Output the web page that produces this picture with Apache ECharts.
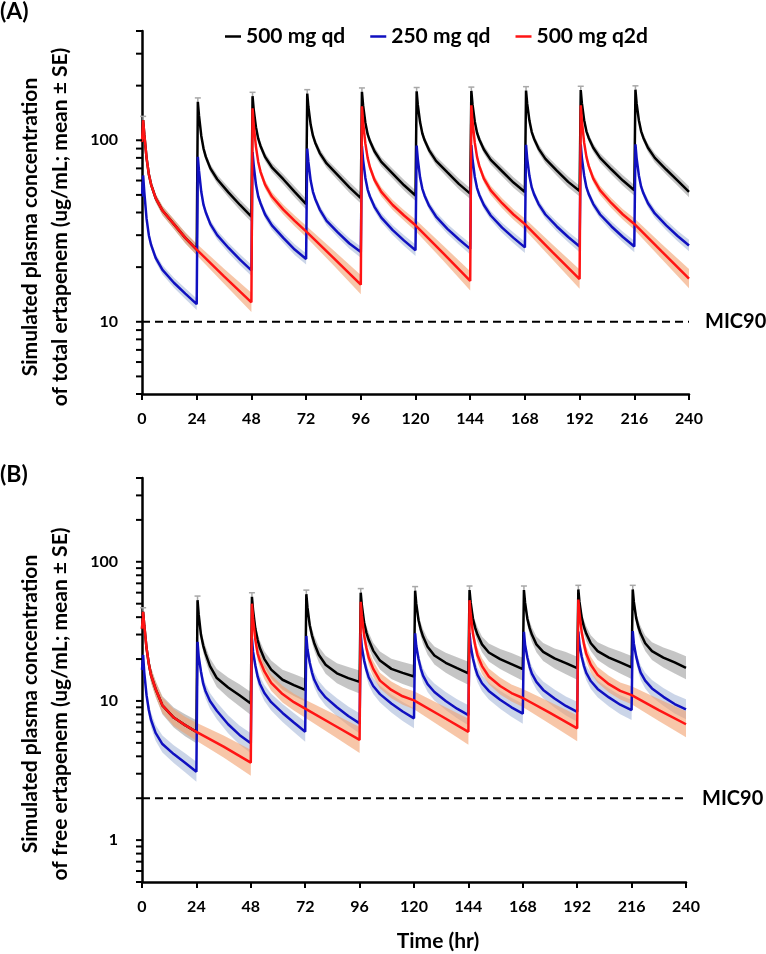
<!DOCTYPE html>
<html><head><meta charset="utf-8">
<script src="https://cdn.jsdelivr.net/npm/echarts@6/dist/echarts.min.js"></script>
<style>html,body{margin:0;padding:0;background:#fff}#c{width:766px;height:954px}</style>
</head><body><div id="c"></div>
<script>
// ---------- schedule / time grid ----------
const dosesQd = [0, 24, 48, 72, 96, 120, 144, 168, 192, 216];
const dosesQ2d = [0, 48, 96, 144, 192];
const offsQd = [0.5, 1, 2, 3, 4, 6, 9, 14, 19, 24];
const offsQ2d = [0.5, 1, 2, 3, 4, 6, 9, 14, 19, 24, 36, 48];
const xTickLabels = [0, 24, 48, 72, 96, 120, 144, 168, 192, 216, 240];
const seriesNames = ['500 mg qd', '250 mg qd', '500 mg q2d'];

// ---------- Panel A: total ertapenem ----------
const yLabelsA = [10, 100];
const yTicksA = [4, 5, 6, 7, 8, 9, 10, 20, 30, 40, 50, 60, 70, 80, 90, 100, 200, 300, 400];
const micA = 10;
const startA = [98, 49, 98];
const black500qdA = [
  [129, 108, 80, 65, 57, 48, 41, 34.5, 29, 25],
  [163, 137, 106, 90, 81, 70, 61, 51.5, 44, 38],
  [175, 148, 118, 102, 93, 81, 71, 61, 52, 44.5],
  [181, 153, 122, 106, 97, 85, 74.5, 64, 55, 48],
  [185, 156, 125, 108, 99, 87, 76, 65.5, 56.5, 49.6],
  [186, 157, 126, 109, 100, 88, 77, 66.5, 57.5, 50.8],
  [187, 158, 127, 110, 101, 89, 78, 67.5, 58.5, 51.9],
  [188, 159, 128, 111, 102, 90, 79, 68, 59, 52.5],
  [189, 160, 129, 112, 103, 91, 80, 69, 60, 53],
  [190, 160, 129, 112, 103, 91, 80, 69, 60, 52]
];
const blue250qdA = [
  [64, 52, 37, 30, 26.5, 22.5, 19.3, 16.4, 14.3, 12.5],
  [81, 68, 52, 44, 40, 34.5, 30, 25.5, 22, 19.2],
  [86, 73, 57, 49, 45, 39, 34, 29, 25, 22.2],
  [90, 76, 60, 52, 47.5, 41.5, 36, 31, 27, 24.2],
  [93, 78, 62, 53.5, 49, 43, 37.5, 32, 28, 24.8],
  [93.5, 79, 62.5, 54, 49.5, 43.5, 38, 32.5, 28.5, 25.2],
  [94, 79, 63, 54.5, 50, 44, 38.5, 33, 29, 25.7],
  [94.5, 79.5, 63.5, 55, 50.5, 44.5, 39, 33.5, 29.3, 26],
  [95, 80, 64, 55, 50.5, 44.5, 39, 33.5, 29.3, 26],
  [95, 80, 64, 55.5, 51, 45, 39.5, 34, 29.7, 26.3]
];
const red500q2dA = [
  [129, 108, 80, 65, 57, 48, 41, 34.5, 29, 25, 17.8, 12.8],
  [150, 122, 92, 76, 67, 57, 49, 41.5, 36, 31.5, 22.5, 16],
  [154, 126, 96, 80, 71, 60.5, 52, 44, 38.5, 34, 24, 16.8],
  [156, 128, 97, 81, 72, 61.5, 53, 45, 39, 34.5, 24.3, 17.2],
  [156, 128, 97, 81, 72, 61.5, 53, 45, 39, 34.6, 24.4, 17.3]
];
// relative SE (fraction of mean) by time after dose
const seBlackA = [0.02, 0.03, 0.04, 0.045, 0.05, 0.055, 0.06, 0.065, 0.07, 0.07];
const seBlueA = [0.02, 0.03, 0.04, 0.045, 0.05, 0.055, 0.06, 0.065, 0.07, 0.075];
const seRedA = [0.02, 0.03, 0.04, 0.045, 0.05, 0.055, 0.06, 0.065, 0.07, 0.075, 0.1, 0.13];
const capBlackA = 0.05;

// ---------- Panel B: free ertapenem ----------
const yLabelsB = [1, 10, 100];
const yTicksB = [0.5, 0.6, 0.7, 0.8, 0.9, 1, 2, 3, 4, 5, 6, 7, 8, 9, 10, 20, 30, 40, 50, 60, 70, 80, 90, 100, 200, 300, 400];
const micB = 2;
const startB = [33, 16.7, 33];
const black500qdB = [
  [43.7, 35, 24, 18.5, 15.3, 12.2, 9.3, 7.6, 6.7, 6.0],
  [53, 42, 30, 25, 22, 17.8, 14.6, 12.5, 11, 9.6],
  [56, 45, 33, 27.5, 24, 20, 16.8, 14.2, 13, 12.0],
  [58.5, 47, 35, 29.5, 26, 21.5, 18.2, 15.8, 14.6, 13.7],
  [60, 48.5, 36.5, 31, 27.5, 23, 19.5, 17, 15.9, 15.0],
  [62, 50, 38, 32.5, 29, 24.5, 21.2, 18.8, 17.2, 15.8],
  [62.6, 51, 39, 33.5, 30, 25.5, 22.3, 20, 18.4, 16.9],
  [62.6, 51, 39, 33.5, 30, 25.5, 22.5, 20.2, 18.7, 17.2],
  [63.3, 51.5, 39.5, 34, 30.5, 26, 22.8, 20.5, 18.9, 17.4],
  [63.3, 51.5, 39.5, 34, 30.5, 26, 22.8, 20.5, 18.9, 17.3]
];
const blue250qdB = [
  [21.4, 16, 11, 8.6, 7.3, 5.9, 4.9, 4.15, 3.6, 3.1],
  [26.6, 21, 16.3, 13.3, 11.8, 10.0, 8.5, 6.8, 5.7, 4.96],
  [28.2, 22.5, 18, 15, 13.3, 11.4, 9.8, 8.2, 7.0, 6.0],
  [29.3, 23.5, 18.8, 16, 14.2, 12.2, 10.6, 9, 7.8, 6.9],
  [30.2, 24.3, 19.5, 16.7, 14.8, 12.8, 11.2, 9.6, 8.4, 7.5],
  [30.6, 24.8, 20, 17.1, 15.2, 13.2, 11.6, 10, 8.8, 7.9],
  [30.8, 25, 20.2, 17.3, 15.4, 13.4, 11.8, 10.2, 9.0, 8.1],
  [31.4, 25.4, 20.5, 17.6, 15.7, 13.7, 12, 10.4, 9.2, 8.35],
  [31.5, 25.5, 20.7, 17.8, 15.9, 13.9, 12.2, 10.6, 9.4, 8.6],
  [31.8, 25.8, 20.9, 18, 16, 14, 12.3, 10.7, 9.5, 8.7]
];
const red500q2dB = [
  [43.7, 35, 24, 18.5, 15.3, 12.2, 9.3, 7.6, 6.7, 6.0, 4.7, 3.6],
  [50, 39, 27.5, 22, 19.5, 16.3, 13.5, 11.2, 9.8, 8.8, 6.8, 5.25],
  [51.6, 41, 29.5, 24, 20.5, 17, 14, 12, 10.8, 10.1, 7.8, 6.0],
  [53, 42.5, 30.5, 25, 21.3, 17.8, 15, 12.8, 11.4, 10.5, 8.2, 6.36],
  [53.5, 43, 31, 25.5, 21.8, 18.2, 15.4, 13.2, 11.8, 11.0, 8.6, 6.8]
];
const seBlackB = [0.04, 0.07, 0.1, 0.12, 0.13, 0.14, 0.16, 0.18, 0.2, 0.21];
const seBlueB = [0.04, 0.07, 0.1, 0.12, 0.13, 0.14, 0.15, 0.16, 0.17, 0.18];
const seRedB = [0.04, 0.07, 0.1, 0.12, 0.13, 0.14, 0.14, 0.15, 0.15, 0.16, 0.2, 0.24];
const capBlackB = 0.07;

// ---------- styles ----------
const FONT = 'Lato';
const lineColors = ['#000000', '#1010c0', '#ff1414'];
const bandColors = ['rgba(150,150,150,0.55)', 'rgba(140,162,205,0.45)', 'rgba(242,160,110,0.6)'];

// ---------- builders ----------
function seriesPoints(doses, offs, t0, rows) {
  const pts = [[0, t0]];
  doses.forEach((d, i) => offs.forEach((o, j) => pts.push([d + o, rows[i][j]])));
  return pts;
}
function bandPoints(doses, offs, t0, rows, se) {
  const hi = [[0, t0 * (1 + se[0])]], lo = [[0, t0 / (1 + se[0])]];
  doses.forEach((d, i) => offs.forEach((o, j) => {
    const v = rows[i][j];
    hi.push([d + o, v * (1 + se[j])]);
    lo.push([d + o, v / (1 + se[j])]);
  }));
  return { hi, lo };
}
function bandSeries(idx, band, color) {
  return {
    type: 'custom', xAxisIndex: idx, yAxisIndex: idx, silent: true, z: 1,
    data: [[120, 20]],
    renderItem: (params, api) => {
      const pts = band.hi.map(p => api.coord(p)).concat(band.lo.slice().reverse().map(p => api.coord(p)));
      return { type: 'polygon', shape: { points: pts }, style: { fill: color } };
    }
  };
}
function lineSeries(idx, name, pts, color) {
  return {
    type: 'line', name, xAxisIndex: idx, yAxisIndex: idx, data: pts,
    showSymbol: false, symbol: 'none', z: 3,
    lineStyle: { color, width: 2.5 }, itemStyle: { color }
  };
}
function capSeries(idx, doses, offs, rows, cap) {
  return {
    type: 'custom', xAxisIndex: idx, yAxisIndex: idx, silent: true, z: 2,
    data: doses.map((d, i) => [d + offs[0], rows[i][0]]),
    renderItem: (params, api) => {
      const t = api.value(0), v = api.value(1);
      const a = api.coord([t, v]), b = api.coord([t, v * (1 + cap)]);
      const st = { stroke: '#a8a8a8', lineWidth: 1.5 };
      return { type: 'group', children: [
        { type: 'line', shape: { x1: a[0], y1: a[1], x2: b[0], y2: b[1] }, style: st },
        { type: 'line', shape: { x1: b[0] - 3, y1: b[1], x2: b[0] + 3, y2: b[1] }, style: st }
      ] };
    }
  };
}
function yTickSeries(idx, ticks) {
  return {
    type: 'custom', xAxisIndex: idx, yAxisIndex: idx, silent: true, z: 5,
    data: ticks.map(v => [0, v]),
    renderItem: (params, api) => {
      const c = api.coord([0, api.value(1)]);
      return { type: 'line', shape: { x1: c[0] - 6, y1: c[1], x2: c[0], y2: c[1] },
               style: { stroke: '#000', lineWidth: 2 } };
    }
  };
}
function micSeries(idx, val) {
  return {
    type: 'line', xAxisIndex: idx, yAxisIndex: idx, silent: true, z: 4,
    data: [[xTickLabels[0], val], [xTickLabels[xTickLabels.length - 1], val]],
    symbol: 'none', showSymbol: false,
    lineStyle: { color: '#000', width: 2, type: [8, 5] },
    endLabel: { show: true, formatter: 'MIC90', distance: 16, color: '#000',
                fontFamily: FONT, fontWeight: 'bold', fontSize: 20 }
  };
}
function labelFmt(list) {
  return v => { const m = list.find(l => Math.abs(l - v) < 1e-6 * l); return m !== undefined ? String(m) : ''; };
}

const panels = [
  { start: startA, rows: [black500qdA, blue250qdA, red500q2dA], se: [seBlackA, seBlueA, seRedA], cap: capBlackA, mic: micA, ticks: yTicksA },
  { start: startB, rows: [black500qdB, blue250qdB, red500q2dB], se: [seBlackB, seBlueB, seRedB], cap: capBlackB, mic: micB, ticks: yTicksB }
];

const series = [];
panels.forEach((p, idx) => {
  const sched = [[dosesQd, offsQd], [dosesQd, offsQd], [dosesQ2d, offsQ2d]];
  sched.forEach((s, k) => series.push(bandSeries(idx, bandPoints(s[0], s[1], p.start[k], p.rows[k], p.se[k]), bandColors[k])));
  series.push(capSeries(idx, dosesQd, offsQd, p.rows[0], p.cap));
  sched.forEach((s, k) => series.push(lineSeries(idx, seriesNames[k], seriesPoints(s[0], s[1], p.start[k], p.rows[k]), lineColors[k])));
  series.push(micSeries(idx, p.mic));
  series.push(yTickSeries(idx, p.ticks));
});

const axisLabelStyle = { color: '#000', fontFamily: FONT, fontWeight: 'bold', fontSize: 16 };
function xAxis(idx) {
  return {
    type: 'value', gridIndex: idx, min: xTickLabels[0], max: xTickLabels[xTickLabels.length - 1], interval: 24,
    axisLine: { show: true, lineStyle: { color: '#000', width: 2.5 } },
    axisTick: { show: true, length: 6, lineStyle: { color: '#000', width: 2 } },
    axisLabel: Object.assign({ margin: 17 }, axisLabelStyle),
    splitLine: { show: false }
  };
}
function yAxis(idx, min, max, labels) {
  return {
    type: 'log', logBase: 10, gridIndex: idx, min, max,
    axisLine: { show: true, lineStyle: { color: '#000', width: 2.5 } },
    axisTick: { show: false },
    axisLabel: Object.assign({ margin: 24, formatter: labelFmt(labels), showMinLabel: true, showMaxLabel: true }, axisLabelStyle),
    splitLine: { show: false }, minorTick: { show: false }, minorSplitLine: { show: false }
  };
}

const titleFont = { fontFamily: FONT, fontWeight: 'bold', fontSize: 21, fill: '#000' };
const option = {
  animation: false,
  backgroundColor: '#fff',
  grid: [
    { left: 142, top: 31, width: 547, height: 363 },
    { left: 142, top: 478, width: 544, height: 404 }
  ],
  xAxis: [xAxis(0), xAxis(1)],
  yAxis: [yAxis(0, 4, 400, yLabelsA), yAxis(1, 0.5, 400, yLabelsB)],
  legend: {
    data: seriesNames, left: 220, top: 21, icon: 'rect', itemWidth: 16, itemHeight: 2.5, itemGap: 25,
    textStyle: { color: '#000', fontFamily: FONT, fontWeight: 'bold', fontSize: 21 }
  },
  graphic: [
    { type: 'text', left: 0, top: 0, style: { text: '(A)', fontFamily: FONT, fontWeight: 'bold', fontSize: 23, fill: '#000' } },
    { type: 'text', left: 0, top: 463, style: { text: '(B)', fontFamily: FONT, fontWeight: 'bold', fontSize: 23, fill: '#000' } },
    { type: 'text', x: 45.5, y: 227, rotation: Math.PI / 2,
      style: Object.assign({ text: 'Simulated plasma concentration\nof total ertapenem (ug/mL; mean \u00b1 SE)', align: 'center', verticalAlign: 'middle', lineHeight: 30 }, titleFont) },
    { type: 'text', x: 45.5, y: 704, rotation: Math.PI / 2,
      style: Object.assign({ text: 'Simulated plasma concentration\nof free ertapenem (ug/mL; mean \u00b1 SE)', align: 'center', verticalAlign: 'middle', lineHeight: 30 }, titleFont) },
    { type: 'text', x: 438, y: 941,
      style: Object.assign({ text: 'Time (hr)', align: 'center', verticalAlign: 'middle' }, titleFont) }
  ],
  series
};
const chart = echarts.init(document.getElementById('c'), null, { renderer: 'canvas' });
chart.setOption(option);
</script>
</body></html>
